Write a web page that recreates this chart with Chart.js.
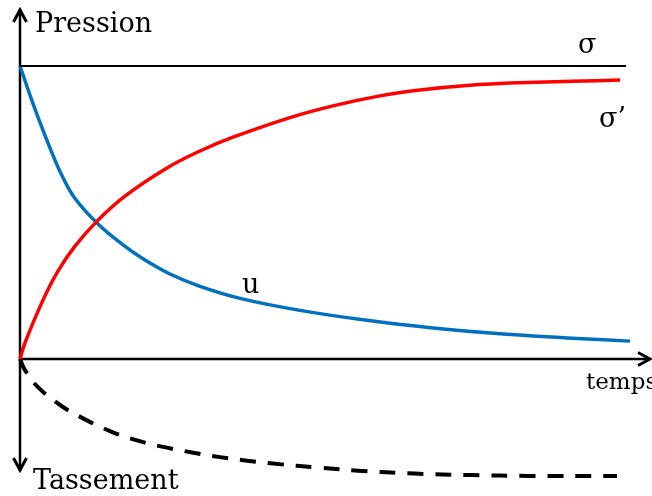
<!DOCTYPE html>
<html><head><meta charset="utf-8">
<script src="https://cdn.jsdelivr.net/npm/chart.js@4"></script>
<style>html,body{margin:0;padding:0;background:#fff}canvas{display:block}</style>
</head><body>
<canvas id="c" width="652" height="496"></canvas>
<script>
// time (normalised units) and normalised pressure / settlement
const sigmaT = [0, 10.1];
const sigmaV = [1, 1];

const effT = [0, 0.083, 0.383, 0.633, 0.917, 1.3, 1.75, 2.45, 3.0, 3.55, 4.5, 5.217, 6.0, 6.667, 7.5, 8.333, 9.2, 10.0];
const effV = [0, 0.055, 0.201, 0.300, 0.385, 0.474, 0.556, 0.652, 0.710, 0.757, 0.824, 0.864, 0.898, 0.918, 0.934, 0.943, 0.948, 0.952];

const uT = [0, 0.195, 0.362, 0.528, 0.695, 0.917, 1.305, 1.695, 2.05, 2.5, 3.0, 3.667, 4.667, 5.783, 6.883, 8.0, 9.117, 10.167];
const uV = [1.0, 0.884, 0.792, 0.706, 0.628, 0.548, 0.460, 0.393, 0.342, 0.290, 0.248, 0.207, 0.166, 0.132, 0.106, 0.086, 0.072, 0.061];

const setT = [0, 0.083, 0.3, 0.667, 1.083, 1.5, 1.95, 2.383, 2.867, 3.3, 3.783, 4.217, 5.0, 5.633, 6.583, 7.5, 8.5, 9.95];
const setV = [0, -0.038, -0.096, -0.157, -0.206, -0.246, -0.278, -0.300, -0.319, -0.334, -0.347, -0.357, -0.371, -0.381, -0.391, -0.396, -0.399, -0.399];

const labels = { y: "Pression", yNeg: "Tassement", x: "temps", sigma: "σ", eff: "σ’", u: "u" };

const pts = (t, v) => t.map((x, i) => ({ x, y: v[i] }));

const axesPlugin = {
  id: 'axesPlugin',
  beforeDatasetsDraw(chart) {
    const ctx = chart.ctx, xs = chart.scales.x, ys = chart.scales.y;
    const x0 = xs.getPixelForValue(0), y0 = ys.getPixelForValue(0);
    ctx.save();
    ctx.strokeStyle = '#000'; ctx.lineWidth = 2.5; ctx.lineCap = 'butt';
    const top = 9, bot = 471, right = 651;
    ctx.beginPath();
    ctx.moveTo(x0, top); ctx.lineTo(x0, bot);
    ctx.moveTo(x0, y0); ctx.lineTo(right, y0);
    ctx.stroke();
    ctx.lineWidth = 3; ctx.lineJoin = 'miter';
    ctx.beginPath();
    ctx.moveTo(x0 - 6.5, top + 13); ctx.lineTo(x0, top + 1); ctx.lineTo(x0 + 6.5, top + 13);
    ctx.moveTo(x0 - 6.5, bot - 13); ctx.lineTo(x0, bot - 1); ctx.lineTo(x0 + 6.5, bot - 13);
    ctx.moveTo(right - 13, y0 - 6.5); ctx.lineTo(right - 1, y0); ctx.lineTo(right - 13, y0 + 6.5);
    ctx.stroke();
    ctx.restore();
  },
  afterDatasetsDraw(chart) {
    const ctx = chart.ctx, xs = chart.scales.x, ys = chart.scales.y;
    const x0 = xs.getPixelForValue(0), y0 = ys.getPixelForValue(0);
    ctx.save();
    ctx.fillStyle = '#000';
    ctx.textBaseline = 'alphabetic';
    ctx.textAlign = 'left';
    ctx.font = '27px "DejaVu Serif"';
    ctx.fillText(labels.y, x0 + 15, 32);
    ctx.fillText(labels.yNeg, x0 + 13, 489);
    ctx.font = '23px "DejaVu Serif"';
    ctx.fillText(labels.x, 586, y0 + 30);
    ctx.font = '27px "DejaVu Serif"';
    ctx.fillText(labels.sigma, 578, 53);
    ctx.fillText(labels.eff, 599, 127);
    ctx.fillText(labels.u, 242, 293);
    ctx.restore();
  }
};

new Chart(document.getElementById('c'), {
  type: 'line',
  data: {
    datasets: [
      { data: pts(sigmaT, sigmaV), borderColor: '#000', borderWidth: 2, pointRadius: 0, tension: 0 },
      { data: pts(effT, effV), borderColor: '#ff0000', borderWidth: 3.5, pointRadius: 0, tension: 0.4 },
      { data: pts(uT, uV), borderColor: '#0070c0', borderWidth: 3.5, pointRadius: 0, tension: 0.4 },
      { data: pts(setT, setV), borderColor: '#000', borderWidth: 4, borderDash: [16, 12], pointRadius: 0, tension: 0.4 }
    ]
  },
  options: {
    responsive: false,
    animation: false,
    layout: { padding: 0 },
    plugins: { legend: { display: false }, tooltip: { enabled: false }, title: { display: false } },
    scales: {
      x: { type: 'linear', display: false, min: -20 / 60, max: 632 / 60 },
      y: { type: 'linear', display: false, min: -137 / 293, max: 359 / 293 }
    }
  },
  plugins: [axesPlugin]
});
</script>
</body></html>
